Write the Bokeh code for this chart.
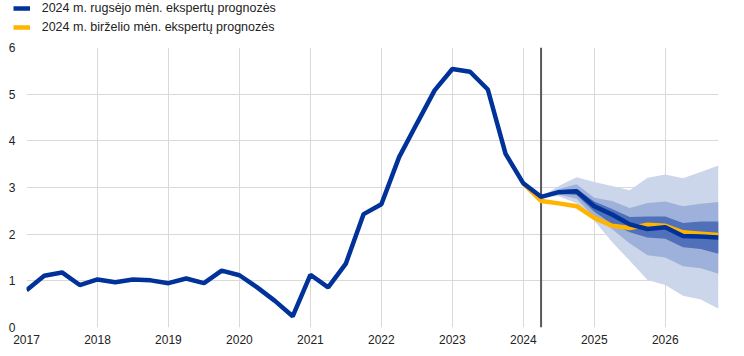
from bokeh.plotting import figure
from bokeh.layouts import column, row
from bokeh.models import Range1d, FixedTicker, Legend, LegendItem, Span
from bokeh.embed import file_html
from bokeh.resources import INLINE

# ---------------- data ----------------
quarters = [
    "2017Q1", "2017Q2", "2017Q3", "2017Q4",
    "2018Q1", "2018Q2", "2018Q3", "2018Q4",
    "2019Q1", "2019Q2", "2019Q3", "2019Q4",
    "2020Q1", "2020Q2", "2020Q3", "2020Q4",
    "2021Q1", "2021Q2", "2021Q3", "2021Q4",
    "2022Q1", "2022Q2", "2022Q3", "2022Q4",
    "2023Q1", "2023Q2", "2023Q3", "2023Q4",
    "2024Q1", "2024Q2", "2024Q3", "2024Q4",
    "2025Q1", "2025Q2", "2025Q3", "2025Q4",
    "2026Q1", "2026Q2", "2026Q3", "2026Q4",
]
september = [
    0.80, 1.11, 1.18, 0.91,
    1.03, 0.97, 1.03, 1.01,
    0.95, 1.05, 0.95, 1.22,
    1.12, 0.86, 0.57, 0.24,
    1.13, 0.86, 1.37, 2.43,
    2.64, 3.65, 4.37, 5.08,
    5.54, 5.48, 5.10, 3.72,
    3.09, 2.80, 2.90, 2.92,
    2.60, 2.42, 2.21, 2.11,
    2.15, 1.96, 1.95, 1.93,
]
june_quarters = quarters[28:]
june = [3.09, 2.71, 2.66, 2.60, 2.35, 2.18, 2.13, 2.20, 2.18, 2.04, 2.01, 1.98]

band_quarters = quarters[29:]
outer_lo = [2.80, 2.81, 2.66, 2.29, 1.83, 1.43, 1.02, 0.91, 0.68, 0.60, 0.40]
outer_hi = [2.80, 3.03, 3.22, 3.12, 3.03, 2.94, 3.21, 3.28, 3.20, 3.33, 3.47]
mid_lo = [2.80, 2.85, 2.76, 2.37, 2.11, 1.80, 1.55, 1.50, 1.31, 1.27, 1.15]
mid_hi = [2.80, 2.97, 3.07, 2.78, 2.71, 2.56, 2.67, 2.70, 2.60, 2.65, 2.69]
in_lo = [2.80, 2.87, 2.84, 2.48, 2.22, 2.04, 1.93, 1.90, 1.72, 1.68, 1.58]
in_hi = [2.80, 2.94, 2.97, 2.70, 2.54, 2.37, 2.38, 2.38, 2.24, 2.27, 2.27]

projection_start = "2024Q2"
year_ticks = [2017, 2018, 2019, 2020, 2021, 2022, 2023, 2024, 2025, 2026]
y_ticks = [0, 1, 2, 3, 4, 5, 6]
label_sep = "2024 m. rugsėjo mėn. ekspertų prognozės"
label_jun = "2024 m. birželio mėn. ekspertų prognozės"

BLUE = "#003299"
YELLOW = "#ffb400"
FONT = "Liberation Sans"


def qpos(label):
    y, q = label.split("Q")
    return int(y) + (int(q) - 1) / 4


x_all = [qpos(q) for q in quarters]
x_jun = [qpos(q) for q in june_quarters]
x_band = [qpos(q) for q in band_quarters]

# ---------------- legend strip ----------------
top = figure(
    width=744, height=40,
    output_backend="svg", toolbar_location=None,
    x_range=Range1d(0, 1), y_range=Range1d(0, 1),
    x_axis_type=None, y_axis_type=None,
    min_border_left=0, min_border_right=0,
    min_border_top=0, min_border_bottom=0,
)
top.outline_line_color = None
top.xgrid.visible = False
top.ygrid.visible = False
# legend-only renderers: the series live outside this strip's visible range
lg_sep = top.line(x=x_all, y=september, line_color=BLUE, line_width=4.5)
lg_jun = top.line(x=x_jun, y=june, line_color=YELLOW, line_width=4.5)
legend = Legend(
    items=[LegendItem(label=label_sep, renderers=[lg_sep]),
           LegendItem(label=label_jun, renderers=[lg_jun])],
    location=(12.7, 5.7),
    orientation="vertical",
    glyph_width=17, glyph_height=14,
    label_height=14, spacing=5,
    label_standoff=12, padding=0, margin=0,
    label_text_font=FONT, label_text_font_size="12.5px",
    label_text_color="#222222",
    background_fill_alpha=0, border_line_color=None,
)
top.add_layout(legend)

# ---------------- main chart ----------------
p = figure(
    width=744, height=316,
    output_backend="svg", toolbar_location=None,
    x_range=Range1d(x_all[0], x_all[-1]), y_range=Range1d(0, 6),
    min_border_left=26, min_border_right=26,
    min_border_top=7, min_border_bottom=29,
)
p.outline_line_color = None
p.background_fill_color = "white"
p.border_fill_color = "white"

p.xaxis.ticker = FixedTicker(ticks=year_ticks)
p.yaxis.ticker = FixedTicker(ticks=y_ticks)
for ax in (p.xaxis[0], p.yaxis[0]):
    ax.axis_line_color = None
    ax.major_tick_line_color = None
    ax.minor_tick_line_color = None
    ax.major_tick_out = 0
    ax.major_tick_in = 0
    ax.major_label_text_font = FONT
    ax.major_label_text_font_size = "12px"
    ax.major_label_text_color = "#222222"
p.xaxis.major_label_standoff = 7
p.yaxis.major_label_standoff = 11

p.xgrid.ticker = FixedTicker(ticks=year_ticks)
p.ygrid.ticker = FixedTicker(ticks=y_ticks)
p.xgrid.grid_line_color = "#d9d9d9"
p.ygrid.grid_line_color = "#d9d9d9"
p.xgrid.grid_line_width = 1
p.ygrid.grid_line_width = 1

# fan bands
p.varea(x=x_band, y1=outer_lo, y2=outer_hi, fill_color="#ccd6ea")
p.varea(x=x_band, y1=mid_lo, y2=mid_hi, fill_color="#9eb1da")
p.varea(x=x_band, y1=in_lo, y2=in_hi, fill_color="#5070b9")

# vertical separator at start of projection
vline = Span(location=qpos(projection_start), dimension="height",
             line_color="#595959", line_width=2, level="underlay")
p.add_layout(vline)

p.line(x_jun, june, line_color=YELLOW, line_width=4.5)
p.line(x_all, september, line_color=BLUE, line_width=4.5)

page = column(row(top), p, spacing=0)
open("out.html", "w").write(file_html(page, INLINE))
